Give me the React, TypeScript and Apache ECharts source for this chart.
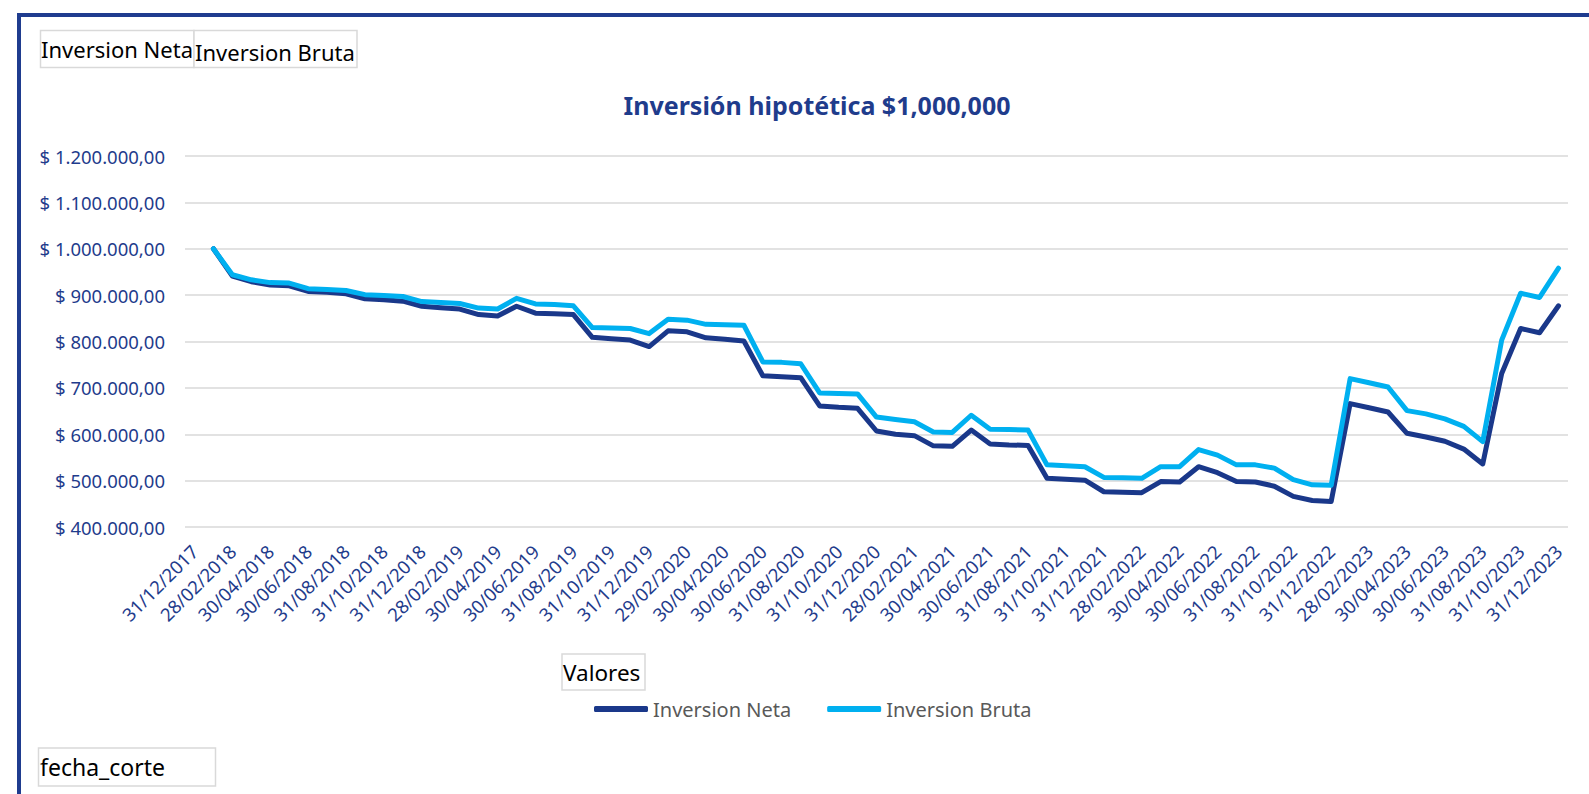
import React, { useEffect, useRef } from "react";
import * as echarts from "echarts";

const fechas = [
  "31/12/2017",
  "31/01/2018", "28/02/2018", "31/03/2018", "30/04/2018", "31/05/2018", "30/06/2018",
  "31/07/2018", "31/08/2018", "30/09/2018", "31/10/2018", "30/11/2018", "31/12/2018",
  "31/01/2019", "28/02/2019", "31/03/2019", "30/04/2019", "31/05/2019", "30/06/2019",
  "31/07/2019", "31/08/2019", "30/09/2019", "31/10/2019", "30/11/2019", "31/12/2019",
  "31/01/2020", "29/02/2020", "31/03/2020", "30/04/2020", "31/05/2020", "30/06/2020",
  "31/07/2020", "31/08/2020", "30/09/2020", "31/10/2020", "30/11/2020", "31/12/2020",
  "31/01/2021", "28/02/2021", "31/03/2021", "30/04/2021", "31/05/2021", "30/06/2021",
  "31/07/2021", "31/08/2021", "30/09/2021", "31/10/2021", "30/11/2021", "31/12/2021",
  "31/01/2022", "28/02/2022", "31/03/2022", "30/04/2022", "31/05/2022", "30/06/2022",
  "31/07/2022", "31/08/2022", "30/09/2022", "31/10/2022", "30/11/2022", "31/12/2022",
  "31/01/2023", "28/02/2023", "31/03/2023", "30/04/2023", "31/05/2023", "30/06/2023",
  "31/07/2023", "31/08/2023", "30/09/2023", "31/10/2023", "30/11/2023", "31/12/2023",
];

// values from 31/01/2018 onwards (the 31/12/2017 cell is blank in the source)
const inversionNeta = [
  1000000, 941000, 929000, 922000, 920000, 908000, 906000, 903000, 892000, 890000, 887000, 876000,
  873000, 870000, 858000, 855000, 876000, 861000, 860000, 858000, 809000, 806000, 803000, 789000,
  823000, 821000, 808000, 805000, 801000, 726000, 724000, 722000, 661000, 658000, 656000, 607000,
  600000, 597000, 575000, 574000, 609000, 579000, 577000, 576000, 505000, 503000, 501000, 476000,
  475000, 474000, 498000, 497000, 530000, 517000, 498000, 497000, 488000, 466000, 457000, 455000,
  666000, 657000, 648000, 602000, 594000, 585000, 568000, 536000, 731000, 828000, 819000, 877000,
];

const inversionBruta = [
  1000000, 944000, 933000, 927000, 926000, 914000, 912000, 910000, 901000, 899000, 897000, 886000,
  884000, 882000, 872000, 870000, 893000, 881000, 880000, 877000, 830000, 829000, 828000, 817000,
  848000, 846000, 837000, 836000, 835000, 756000, 755000, 752000, 689000, 688000, 687000, 637000,
  632000, 627000, 605000, 604000, 641000, 611000, 610000, 609000, 534000, 532000, 530000, 507000,
  506000, 505000, 530000, 530000, 567000, 555000, 534000, 534000, 527000, 502000, 491000, 490000,
  720000, 711000, 702000, 651000, 644000, 633000, 617000, 584000, 803000, 904000, 895000, 958000,
];

const seriesNames = ["Inversion Neta", "Inversion Bruta"];
const titleText = "Inversión hipotética $1,000,000";

const FONT = "Noto Sans";
const DARK = "#1A388A";
const LIGHT = "#00B0F0";
const AXIS_BLUE = "#1F3C8C";

function formatMoney(v: number): string {
  const s = Math.round(v).toString().replace(/\B(?=(\d{3})+(?!\d))/g, ".");
  return "$ " + s + ",00";
}

export default function App() {
  const ref = useRef<HTMLDivElement | null>(null);

  useEffect(() => {
    if (!ref.current) return;
    const chart = echarts.init(ref.current, null, { renderer: "svg" });
    const option: any = {
      animation: false,
      backgroundColor: "#ffffff",
      textStyle: { fontFamily: FONT },
      title: {
        text: titleText,
        left: 812,
        top: 87,
        textAlign: "center",
        textStyle: { color: AXIS_BLUE, fontSize: 25, fontWeight: "bold", fontFamily: FONT },
      },
      grid: { left: 185, right: 21, top: 156, bottom: 267, containLabel: false },
      xAxis: {
        type: "category",
        data: fechas,
        boundaryGap: true,
        axisLine: { show: false },
        axisTick: { show: false },
        splitLine: { show: false },
        axisLabel: {
          interval: 1,
          rotate: 45,
          color: AXIS_BLUE,
          fontSize: 18.5,
          fontFamily: FONT,
          margin: 21,
        },
      },
      yAxis: {
        type: "value",
        min: 400000,
        max: 1200000,
        interval: 100000,
        axisLine: { show: false },
        axisTick: { show: false },
        axisLabel: {
          formatter: (v: number) => formatMoney(v),
          color: AXIS_BLUE,
          fontSize: 18.5,
          fontFamily: FONT,
          margin: 20,
        },
        splitLine: { lineStyle: { color: "#d9d9d9", width: 1.5 } },
      },
      legend: {
        data: seriesNames,
        left: 589,
        top: 694,
        itemWidth: 54,
        itemHeight: 6,
        itemGap: 36,
        icon: "roundRect",
        textStyle: { color: "#595959", fontSize: 20, fontFamily: FONT },
      },
      series: [
        {
          name: seriesNames[0],
          type: "line",
          data: [null, ...inversionNeta],
          symbol: "none",
          lineStyle: { width: 5, color: DARK, cap: "round", join: "round" },
          itemStyle: { color: DARK },
        },
        {
          name: seriesNames[1],
          type: "line",
          data: [null, ...inversionBruta],
          symbol: "none",
          lineStyle: { width: 5, color: LIGHT, cap: "round", join: "round" },
          itemStyle: { color: LIGHT },
        },
      ],
      graphic: [
        {
          type: "rect",
          silent: true,
          shape: { x: 19, y: 15, width: 1620, height: 820 },
          style: { fill: "none", stroke: "#1F3C8F", lineWidth: 4 },
        },
        {
          type: "rect",
          shape: { x: 40.5, y: 30.5, width: 153.5, height: 37 },
          style: { fill: "#ffffff", stroke: "#d9d9d9", lineWidth: 1.5 },
        },
        {
          type: "rect",
          shape: { x: 194, y: 30.5, width: 163, height: 37 },
          style: { fill: "#ffffff", stroke: "#d9d9d9", lineWidth: 1.5 },
        },
        {
          type: "text",
          x: 41,
          y: 49,
          style: { text: "Inversion Neta", fill: "#000000", fontSize: 22, fontFamily: FONT, verticalAlign: "middle", align: "left" },
        },
        {
          type: "text",
          x: 195,
          y: 52,
          style: { text: "Inversion Bruta", fill: "#000000", fontSize: 22, fontFamily: FONT, verticalAlign: "middle", align: "left" },
        },
        {
          type: "rect",
          shape: { x: 562, y: 654, width: 83, height: 36 },
          style: { fill: "#ffffff", stroke: "#d9d9d9", lineWidth: 1.5 },
        },
        {
          type: "text",
          x: 563,
          y: 672,
          style: { text: "Valores", fill: "#000000", fontSize: 22.5, fontFamily: FONT, verticalAlign: "middle", align: "left" },
        },
        {
          type: "rect",
          shape: { x: 38.5, y: 748, width: 177, height: 38 },
          style: { fill: "#ffffff", stroke: "#d9d9d9", lineWidth: 1.5 },
        },
        {
          type: "text",
          x: 40,
          y: 767,
          style: { text: "fecha_corte", fill: "#000000", fontSize: 23, fontFamily: FONT, verticalAlign: "middle", align: "left" },
        },
      ],
    };
    chart.setOption(option);
    return () => {
      chart.dispose();
    };
  }, []);

  return (
    <div
      ref={ref}
      style={{ position: "fixed", left: 0, top: 0, width: 1589, height: 794, background: "#ffffff" }}
    />
  );
}
